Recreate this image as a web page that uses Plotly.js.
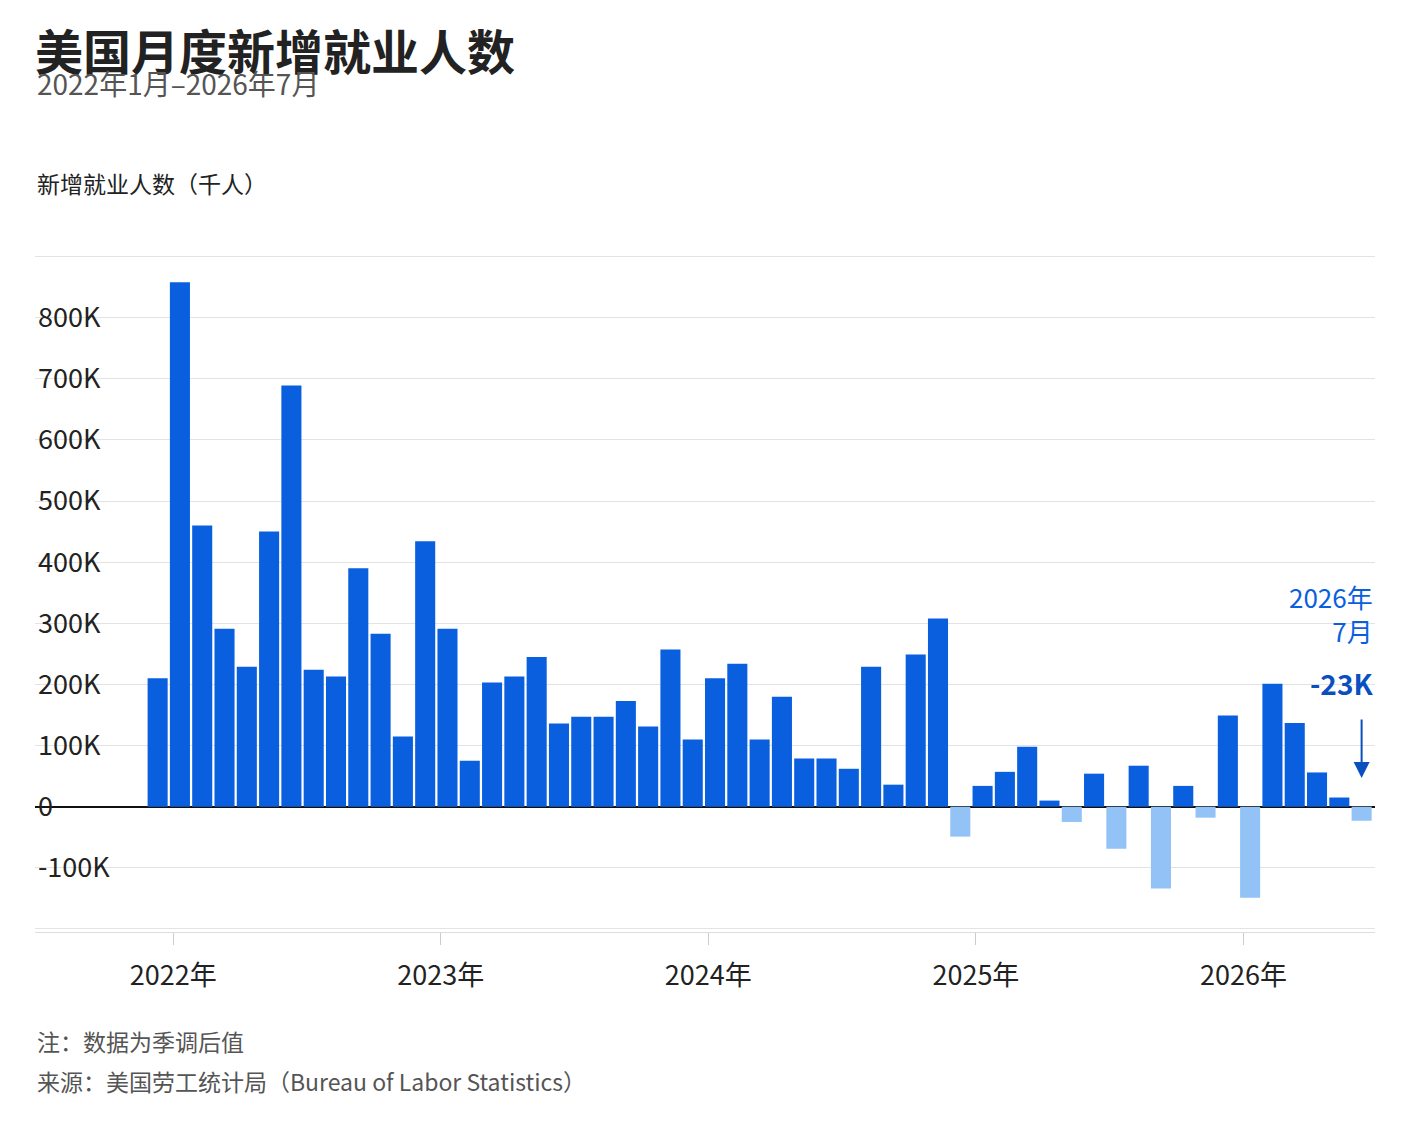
<!DOCTYPE html>
<html><head><meta charset="utf-8">
<script src="https://cdn.plot.ly/plotly-3.0.1.min.js"></script>
<style>body{margin:0;background:#fff}</style>
</head><body>
<div id="plot" style="width:1402px;height:1122px"></div>
<script>
// monthly payroll change, thousands, Jan 2022 .. Jul 2026
var months = [];
for (var i = 0; i < 55; i++) months.push(i);
var values = [210,858,460,291,229,450,689,224,213,390,283,115,
              434,291,75,203,213,245,136,147,147,173,131,257,
              110,210,234,110,180,79,79,62,229,36,249,308,
              -49,34,57,98,10,-25,54,-69,67,-134,34,-18,
              149,-149,201,137,56,15,-23];
var yearTicks = [0.7, 12.7, 24.7, 36.7, 48.7];
var yearLabels = ['2022年','2023年','2024年','2025年','2026年'];
var yTicks = [-200,-100,0,100,200,300,400,500,600,700,800,900];
var yLabels = ['-200K','-100K','0','100K','200K','300K','400K','500K','600K','700K','800K','900K'];

var colors = values.map(function(v){ return v < 0 ? '#93c2f7' : '#0a5fdf'; });
var font = 'Noto Sans CJK SC, Noto Sans, sans-serif';

var trace = {x: months, y: values, type: 'bar', marker: {color: colors}, hoverinfo: 'skip'};

var layout = {
  width: 1402, height: 1122,
  margin: {l: 35, r: 27, t: 240, b: 190},
  paper_bgcolor: '#fff', plot_bgcolor: '#fff',
  bargap: 0.1, showlegend: false,
  font: {family: font, color: '#222'},
  xaxis: {range: [-5.5, 54.6], tickvals: yearTicks, ticktext: yearLabels,
          showgrid: false, zeroline: false, ticks: 'outside', ticklen: 12,
          tickcolor: '#ccc', showline: true, linecolor: '#ddd',
          ticklabelstandoff: 8,
          tickfont: {size: 27, color: '#222'}},
  yaxis: {range: [-205, 927], tickvals: yTicks, ticktext: yLabels,
          ticklabelposition: 'inside', gridcolor: '#e3e3e3',
          zeroline: true, zerolinecolor: '#111', zerolinewidth: 2,
          tickfont: {size: 27, color: '#222'}},
  title: {text: '<b>美国月度新增就业人数</b>', x: 0.025, xanchor: 'left', y: 0.968,
          font: {size: 48, color: '#222', family: font}},
  annotations: [
    {text: '2022年1月–2026年7月', xref: 'paper', yref: 'paper', x: 0, y: 1.258,
     xanchor: 'left', showarrow: false, font: {size: 28, color: '#555'}},
    {text: '新增就业人数（千人）', xref: 'paper', yref: 'paper', x: 0, y: 1.11,
     xanchor: 'left', showarrow: false, font: {size: 23, color: '#222'}},
    {text: '注：数据为季调后值', xref: 'paper', yref: 'paper', x: 0, y: -0.185,
     xanchor: 'left', showarrow: false, font: {size: 23, color: '#555'}},
    {text: '来源：美国劳工统计局（Bureau of Labor Statistics）', xref: 'paper', yref: 'paper',
     x: 0, y: -0.243, xanchor: 'left', showarrow: false, font: {size: 23, color: '#555'}},
    {text: '2026年<br>7月', xref: 'paper', yref: 'paper', x: 1.0, y: 0.46,
     xanchor: 'right', align: 'right', showarrow: false,
     font: {size: 26, color: '#0a5fdf'}},
    {text: '<b>-23K</b>', xref: 'paper', yref: 'paper', x: 1.0, y: 0.36,
     xanchor: 'right', showarrow: false, font: {size: 28, color: '#0a4fc0'}},
    {x: 54, y: 47, xref: 'x', yref: 'y', text: '', showarrow: true,
     ax: 0, ay: -60, arrowhead: 2, arrowsize: 1.6, arrowwidth: 2, arrowcolor: '#0a4fc0'}
  ]
};
Plotly.newPlot('plot', [trace], layout, {displayModeBar: false});
</script>
</body></html>
